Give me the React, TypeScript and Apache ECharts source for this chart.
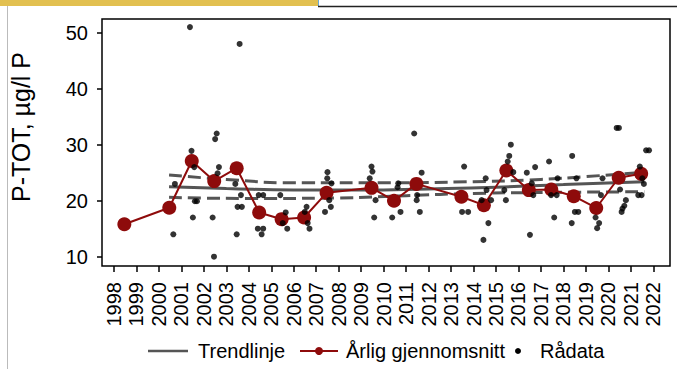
import React, { useEffect, useRef } from "react";
import * as echarts from "echarts";

const FONT = "'Liberation Sans', Arial, sans-serif";

const yearTicks = [1998, 1999, 2000, 2001, 2002, 2003, 2004, 2005, 2006, 2007, 2008, 2009, 2010, 2011, 2012, 2013, 2014, 2015, 2016, 2017, 2018, 2019, 2020, 2021, 2022];
const yTicks = [10, 20, 30, 40, 50];

// Annual means (plotted at mid-year)
const meanYears = [1998, 2000, 2001, 2002, 2003, 2004, 2005, 2006, 2007, 2009, 2010, 2011, 2013, 2014, 2015, 2016, 2017, 2018, 2019, 2020, 2021];
const meanValues = [15.8, 18.75, 27.1, 23.5, 25.8, 17.9, 16.7, 17.0, 21.4, 22.3, 20.0, 23.0, 20.7, 19.2, 25.4, 21.9, 22.0, 20.8, 18.7, 24.1, 24.8];

// Raw samples (decimal year, value)
const rawDates = [
  2000.64, 2000.71,
  2001.38, 2001.45, 2001.57, 2001.60, 2001.69, 2001.51,
  2002.57, 2002.50, 2002.67, 2002.61, 2002.39, 2002.45,
  2003.59, 2003.40, 2003.65, 2003.50, 2003.69, 2003.46,
  2004.44, 2004.64, 2004.40, 2004.64, 2004.57,
  2005.40, 2005.64, 2005.51, 2005.71,
  2006.57, 2006.49, 2006.62, 2006.70,
  2007.50, 2007.49, 2007.68, 2007.58, 2007.65, 2007.39,
  2009.46, 2009.50, 2009.38, 2009.64, 2009.58,
  2010.38, 2010.65, 2010.62, 2010.75,
  2011.36, 2011.69, 2011.49, 2011.47, 2011.61,
  2013.58, 2013.49, 2013.76,
  2014.54, 2014.58, 2014.36, 2014.78, 2014.66, 2014.44,
  2015.66, 2015.59, 2015.52, 2015.77, 2015.37, 2015.44,
  2016.37, 2016.74, 2016.59, 2016.66, 2016.51,
  2017.36, 2017.74, 2017.45, 2017.70, 2017.59,
  2018.39, 2018.58, 2018.51, 2018.66, 2018.37,
  2019.74, 2019.67, 2019.43, 2019.59, 2019.50,
  2020.37, 2020.47, 2020.52, 2020.78, 2020.71, 2020.63, 2020.59,
  2021.40, 2021.51, 2021.58, 2021.33, 2021.48, 2021.68, 2021.81,
];
const rawValues = [
  14.0, 23.0,
  51.0, 28.9, 26.0, 19.9, 19.9, 17.0,
  32.0, 31.0, 26.0, 24.9, 17.0, 10.0,
  48.0, 23.0, 21.0, 18.9, 18.9, 14.0,
  21.0, 21.0, 15.0, 15.0, 14.0,
  21.0, 17.9, 16.0, 15.0,
  18.9, 18.0, 16.0, 15.0,
  25.1, 24.0, 23.1, 20.1, 18.9, 18.0,
  26.1, 25.2, 24.0, 20.1, 17.0,
  17.0, 23.1, 22.4, 18.0,
  32.0, 25.0, 21.0, 20.1, 18.0,
  26.1, 18.0, 18.0,
  24.0, 21.9, 20.1, 20.1, 16.0, 13.0,
  30.0, 28.0, 27.0, 25.1, 21.9, 20.1,
  25.0, 26.0, 23.1, 21.0, 13.9,
  27.0, 24.0, 21.0, 21.0, 17.0,
  28.0, 24.0, 18.0, 18.0, 16.0,
  24.0, 21.0, 17.0, 16.0, 15.1,
  33.0, 33.0, 22.0, 20.1, 19.1, 18.6, 18.0,
  26.1, 24.0, 23.0, 21.0, 21.0, 29.0, 29.0,
];

// Trend line and confidence band, read at a few dates
const trendDates = [2000.45, 2003, 2006, 2009, 2012, 2015, 2018, 2021.6];
const trendValues = [22.5, 22.2, 21.9, 21.9, 22.1, 22.4, 22.9, 23.4];
const upperDates = [2000.45, 2003, 2006, 2010, 2014, 2017, 2019, 2021.6];
const upperValues = [24.6, 23.8, 23.2, 23.2, 23.4, 23.8, 24.3, 25.1];
const lowerDates = [2000.45, 2004, 2008, 2011, 2014, 2018, 2021.6];
const lowerValues = [20.6, 20.4, 20.5, 20.9, 21.3, 21.5, 21.6];

const RED = "#8E0B0B";
const GREY = "#555555";

export default function App() {
  const ref = useRef<HTMLDivElement>(null);
  useEffect(() => {
    if (!ref.current) return;
    const chart = echarts.init(ref.current, undefined, { renderer: "svg" });
    const zip = (xs: number[], ys: number[]) => xs.map((x, i) => [x, ys[i]]);
    chart.setOption({
      animation: false,
      backgroundColor: "#ffffff",
      textStyle: { fontFamily: FONT },
      grid: {
        left: 102, right: 7, top: 19, bottom: 103,
        show: true, borderColor: "#000", borderWidth: 1.5, backgroundColor: "transparent",
      },
      xAxis: {
        type: "value",
        min: 1997.466,
        max: 2022.743,
        axisLine: { show: false },
        splitLine: { show: false },
        axisTick: { show: true, length: 6, lineStyle: { color: "#000", width: 1.5 }, customValues: yearTicks },
        axisLabel: {
          show: true, rotate: 90, margin: 16, fontSize: 20, color: "#000", fontFamily: FONT,
          customValues: yearTicks, formatter: (v: number) => String(Math.round(v)),
        },
      },
      yAxis: {
        type: "value",
        min: 8.34,
        max: 52.45,
        axisLine: { show: false },
        splitLine: { show: false },
        axisTick: { show: true, length: 5, lineStyle: { color: "#000", width: 1.5 }, customValues: yTicks },
        axisLabel: {
          show: true, margin: 14, fontSize: 20, color: "#000", fontFamily: FONT,
          customValues: yTicks, formatter: (v: number) => String(Math.round(v)),
        },
      },
      series: [
        {
          type: "line", name: "upper", data: zip(upperDates, upperValues), smooth: true,
          showSymbol: false, symbol: "none", lineStyle: { color: GREY, width: 3, type: [13, 6] }, z: 2,
        },
        {
          type: "line", name: "lower", data: zip(lowerDates, lowerValues), smooth: true,
          showSymbol: false, symbol: "none", lineStyle: { color: GREY, width: 3, type: [13, 6] }, z: 2,
        },
        {
          type: "line", name: "Trendlinje", data: zip(trendDates, trendValues), smooth: true,
          showSymbol: false, symbol: "none", lineStyle: { color: GREY, width: 3 }, z: 2,
        },
        {
          type: "line", name: "Årlig gjennomsnitt", data: meanYears.map((y, i) => [y + 0.46, meanValues[i]]),
          symbol: "circle", symbolSize: 14, itemStyle: { color: RED }, lineStyle: { color: RED, width: 2 }, z: 3,
        },
        {
          type: "scatter", name: "Rådata", data: zip(rawDates, rawValues),
          symbol: "circle", symbolSize: 6, itemStyle: { color: "#000" }, z: 4,
        },
      ],
      graphic: [
        { type: "rect", shape: { x: 0, y: 0, width: 318, height: 6 }, style: { fill: "#E2C050" } },
        { type: "line", shape: { x1: 318.5, y1: 0, x2: 318.5, y2: 7 }, style: { stroke: "#6AAAD6", lineWidth: 1 } },
        { type: "line", shape: { x1: 318, y1: 6.5, x2: 677, y2: 6.5 }, style: { stroke: "#222", lineWidth: 1.5 } },
        { type: "line", shape: { x1: 7.5, y1: 6, x2: 7.5, y2: 369 }, style: { stroke: "#bbbbbb", lineWidth: 1 } },
        {
          type: "text", x: 21, y: 127, rotation: Math.PI / 2,
          style: { text: "P-TOT, µg/l P", font: `25px ${FONT}`, fill: "#000", align: "center", verticalAlign: "middle" },
        },
        { type: "line", shape: { x1: 148, y1: 351, x2: 188, y2: 351 }, style: { stroke: GREY, lineWidth: 2.5 } },
        { type: "text", x: 198, y: 351, style: { text: "Trendlinje", font: `20px ${FONT}`, fill: "#000", verticalAlign: "middle" } },
        { type: "line", shape: { x1: 300, y1: 351, x2: 338, y2: 351 }, style: { stroke: RED, lineWidth: 2 } },
        { type: "circle", shape: { cx: 319, cy: 351, r: 4 }, style: { fill: RED } },
        { type: "text", x: 346, y: 351, style: { text: "Årlig gjennomsnitt", font: `20px ${FONT}`, fill: "#000", verticalAlign: "middle" } },
        { type: "circle", shape: { cx: 518, cy: 351, r: 3 }, style: { fill: "#000" } },
        { type: "text", x: 540, y: 351, style: { text: "Rådata", font: `20px ${FONT}`, fill: "#000", verticalAlign: "middle" } },
      ],
    });
    return () => chart.dispose();
  }, []);
  return <div ref={ref} style={{ width: 677, height: 369, position: "absolute", left: 0, top: 0 }} />;
}
